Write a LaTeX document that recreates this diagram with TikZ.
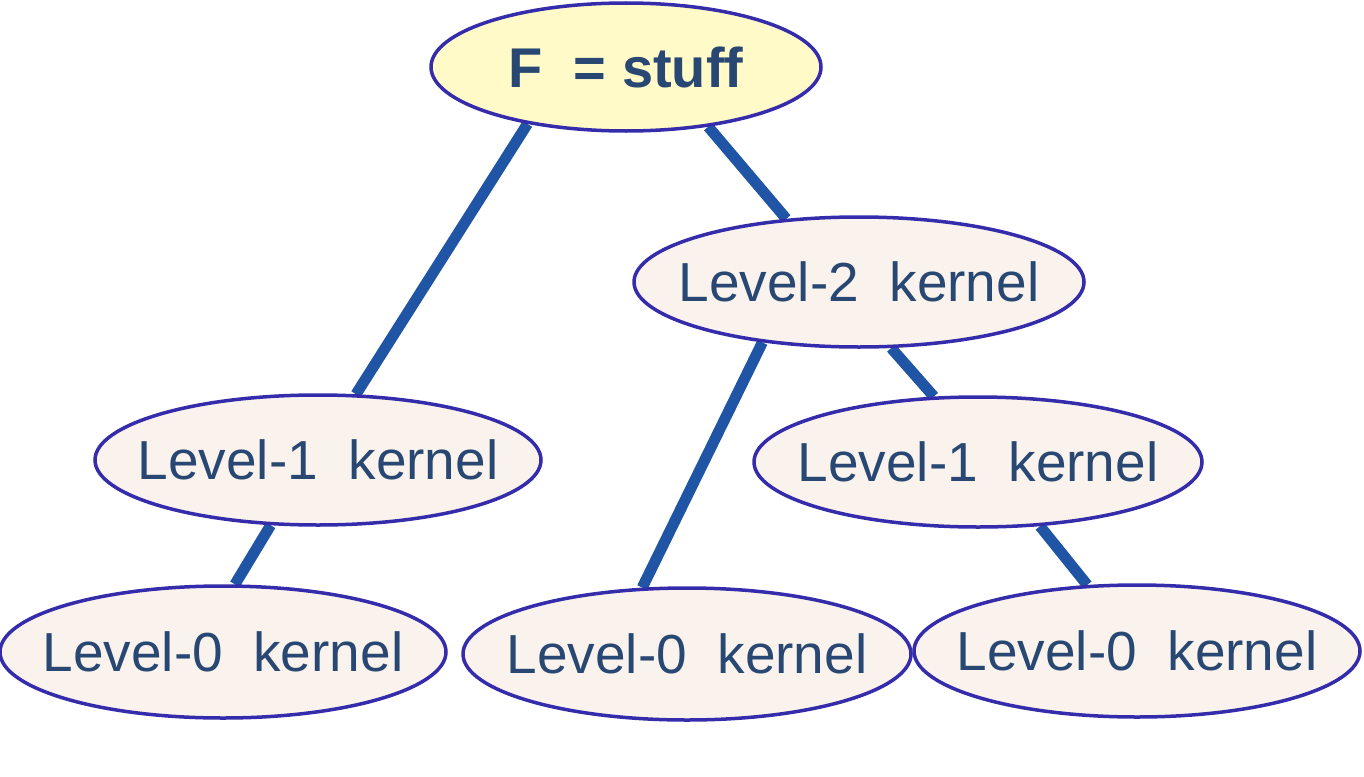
\documentclass[tikz,border=0pt]{standalone}
\usepackage{fontspec}
\setmainfont{Liberation Sans}
\usetikzlibrary{shapes.geometric,backgrounds}
\definecolor{edgeblue}{RGB}{32,84,165}
\definecolor{rimblue}{RGB}{52,44,170}
\definecolor{txtblue}{RGB}{40,72,115}
\definecolor{rootfill}{RGB}{255,250,200}
\definecolor{kfill}{RGB}{250,242,236}
\newcommand{\ztext}[1]{\makebox[0pt]{#1}}
\tikzset{
  kern/.style={ellipse, draw=rimblue, line width=3.5pt, fill=kfill, inner sep=0pt,
    minimum width=448pt, minimum height=130pt, text=txtblue,
    font=\fontsize{55}{60}\selectfont},
  rootnode/.style={kern, fill=rootfill, minimum width=390pt, minimum height=128pt,
    font=\fontsize{56}{60}\selectfont\bfseries},
  link/.style={edgeblue, line width=11pt}
}
\begin{document}
\begin{tikzpicture}[x=1pt,y=-1pt]
\useasboundingbox (0,0) rectangle (1364,776);
\node[rootnode] (F) at (626,67) {\ztext{F~~= stuff}};
\node[kern, minimum width=450pt] (L2) at (859,282) {\ztext{Level-2~~kernel}};
\node[kern, minimum width=446pt] (L1a) at (318,460) {\ztext{Level-1~~kernel}};
\node[kern] (L1b) at (978,462) {\ztext{Level-1~~kernel}};
\node[kern, minimum width=446pt, minimum height=132pt] (L0a) at (223,652) {\ztext{Level-0~~kernel}};
\node[kern, minimum height=132pt] (L0b) at (687,654) {\ztext{Level-0~~kernel}};
\node[kern, minimum width=446pt, minimum height=132pt] (L0c) at (1137,651) {\ztext{Level-0~~kernel}};
\begin{scope}[on background layer]
\draw[link] (F.210) -- (L1a.60);
\draw[link] (F.324) -- (L2.139);
\draw[link] (L2.212) -- (L0b.124);
\draw[link] (L2.296) -- (L1b.124);
\draw[link] (L1a.234) -- (L0a.80);
\draw[link] (L1b.314) -- (L0c.127);
\end{scope}
\end{tikzpicture}
\end{document}
